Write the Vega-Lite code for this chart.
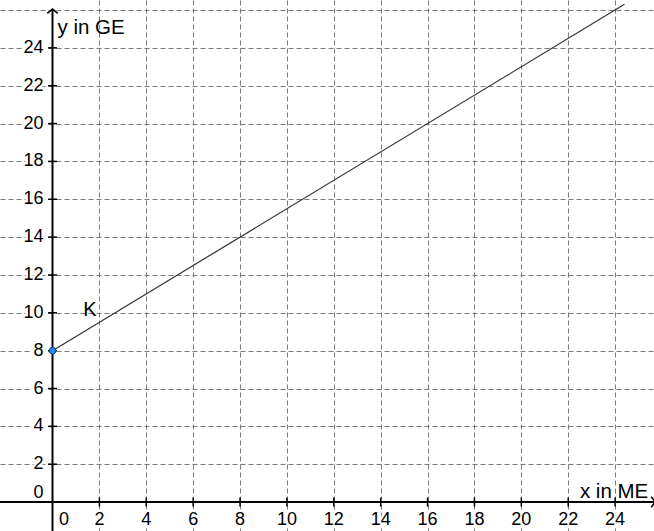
{
  "$schema": "https://vega.github.io/schema/vega-lite/v6.json",
  "width": 654,
  "height": 531,
  "autosize": {"type": "fit", "contains": "padding"},
  "padding": 0,
  "background": "white",
  "config": {"view": {"stroke": null}, "font": "Liberation Sans"},
  "datasets": {
    "line": [{"x": 0, "y": 8}, {"x": 24.4, "y": 26.3}],
    "pt": [{"x": 0, "y": 8}],
    "axes": [{"x": -2.24, "x2": 25.72, "y": 0, "y2": 0}, {"x": 0, "x2": 0, "y": -1.53, "y2": 26.05}],
    "ytip": [{"x": 0, "y": 26.05}],
    "xtip": [{"x": 25.72, "y": 0}],
    "xt": [{"x": 2, "y": 0}, {"x": 4, "y": 0}, {"x": 6, "y": 0}, {"x": 8, "y": 0}, {"x": 10, "y": 0}, {"x": 12, "y": 0}, {"x": 14, "y": 0}, {"x": 16, "y": 0}, {"x": 18, "y": 0}, {"x": 20, "y": 0}, {"x": 22, "y": 0}, {"x": 24, "y": 0}],
    "yt": [{"x": 0, "y": 2}, {"x": 0, "y": 4}, {"x": 0, "y": 6}, {"x": 0, "y": 8}, {"x": 0, "y": 10}, {"x": 0, "y": 12}, {"x": 0, "y": 14}, {"x": 0, "y": 16}, {"x": 0, "y": 18}, {"x": 0, "y": 20}, {"x": 0, "y": 22}, {"x": 0, "y": 24}],
    "x0": [{"x": 0, "y": 0, "t": "0"}],
    "y0": [{"x": 0, "y": 0, "t": "0"}],
    "xl": [{"x": 2, "y": 0, "t": "2"}, {"x": 4, "y": 0, "t": "4"}, {"x": 6, "y": 0, "t": "6"}, {"x": 8, "y": 0, "t": "8"}, {"x": 10, "y": 0, "t": "10"}, {"x": 12, "y": 0, "t": "12"}, {"x": 14, "y": 0, "t": "14"}, {"x": 16, "y": 0, "t": "16"}, {"x": 18, "y": 0, "t": "18"}, {"x": 20, "y": 0, "t": "20"}, {"x": 22, "y": 0, "t": "22"}, {"x": 24, "y": 0, "t": "24"}],
    "yl": [{"x": 0, "y": 2, "t": "2"}, {"x": 0, "y": 4, "t": "4"}, {"x": 0, "y": 6, "t": "6"}, {"x": 0, "y": 8, "t": "8"}, {"x": 0, "y": 10, "t": "10"}, {"x": 0, "y": 12, "t": "12"}, {"x": 0, "y": 14, "t": "14"}, {"x": 0, "y": 16, "t": "16"}, {"x": 0, "y": 18, "t": "18"}, {"x": 0, "y": 20, "t": "20"}, {"x": 0, "y": 22, "t": "22"}, {"x": 0, "y": 24, "t": "24"}],
    "ytitle": [{"x": 0, "y": 24.75, "t": "y in GE"}],
    "xtitle": [{"x": 22.5, "y": 0, "t": "x in ME"}],
    "klab": [{"x": 1.6, "y": 10.15, "t": "K"}]
  },
  "encoding": {
    "x": {
      "field": "x", "type": "quantitative",
      "scale": {"domain": [-2.24, 25.66], "nice": false, "zero": false},
      "axis": {"title": null, "labels": false, "ticks": false, "domain": false, "grid": true,
               "values": [2, 4, 6, 8, 10, 12, 14, 16, 18, 20, 22, 24],
               "gridColor": "#7a7a7a", "gridDash": [5, 3], "gridWidth": 1}
    },
    "y": {
      "field": "y", "type": "quantitative",
      "scale": {"domain": [-1.53, 26.53], "nice": false, "zero": false},
      "axis": {"title": null, "labels": false, "ticks": false, "domain": false, "grid": true,
               "values": [2, 4, 6, 8, 10, 12, 14, 16, 18, 20, 22, 24, 26],
               "gridColor": "#7a7a7a", "gridDash": [5, 3], "gridWidth": 1}
    }
  },
  "layer": [
    {"data": {"name": "line"}, "mark": {"type": "line", "stroke": "#333333", "strokeWidth": 1.2, "clip": true}},
    {"data": {"name": "axes"}, "mark": {"type": "rule", "stroke": "black", "strokeWidth": 2, "clip": true},
     "encoding": {"x2": {"field": "x2"}, "y2": {"field": "y2"}}},
    {"data": {"name": "ytip"}, "mark": {"type": "point", "shape": "M-1,0.8L0,0L1,0.8", "filled": false, "stroke": "black", "strokeWidth": 1.6, "size": 110, "opacity": 1, "clip": true}},
    {"data": {"name": "xtip"}, "mark": {"type": "point", "shape": "M-1,0.8L0,0L1,0.8", "angle": 90, "filled": false, "stroke": "black", "strokeWidth": 1.6, "size": 110, "opacity": 1, "clip": true}},
    {"data": {"name": "xt"}, "mark": {"type": "tick", "orient": "vertical", "size": 9, "thickness": 1.5, "color": "black", "opacity": 1}},
    {"data": {"name": "yt"}, "mark": {"type": "tick", "orient": "horizontal", "size": 9, "thickness": 1.5, "color": "black", "opacity": 1}},
    {"data": {"name": "pt"}, "mark": {"type": "point", "shape": "circle", "filled": true, "fill": "#1e8fff", "stroke": "#1a3f7a", "strokeWidth": 1, "size": 45, "opacity": 1}},
    {"data": {"name": "xl"}, "mark": {"type": "text", "fontSize": 18, "align": "center", "baseline": "middle", "dy": 18, "stroke": "white", "strokeWidth": 5, "fill": "white"}, "encoding": {"text": {"field": "t"}}},
    {"data": {"name": "xl"}, "mark": {"type": "text", "fontSize": 18, "align": "center", "baseline": "middle", "dy": 18, "fill": "black"}, "encoding": {"text": {"field": "t"}}},
    {"data": {"name": "x0"}, "mark": {"type": "text", "fontSize": 18, "align": "left", "baseline": "middle", "dx": 6.5, "dy": 18, "stroke": "white", "strokeWidth": 5, "fill": "white"}, "encoding": {"text": {"field": "t"}}},
    {"data": {"name": "x0"}, "mark": {"type": "text", "fontSize": 18, "align": "left", "baseline": "middle", "dx": 6.5, "dy": 18, "fill": "black"}, "encoding": {"text": {"field": "t"}}},
    {"data": {"name": "yl"}, "mark": {"type": "text", "fontSize": 18, "align": "right", "baseline": "middle", "dx": -9, "stroke": "white", "strokeWidth": 5, "fill": "white"}, "encoding": {"text": {"field": "t"}}},
    {"data": {"name": "yl"}, "mark": {"type": "text", "fontSize": 18, "align": "right", "baseline": "middle", "dx": -9, "fill": "black"}, "encoding": {"text": {"field": "t"}}},
    {"data": {"name": "y0"}, "mark": {"type": "text", "fontSize": 18, "align": "right", "baseline": "middle", "dx": -9, "dy": -9, "fill": "black"}, "encoding": {"text": {"field": "t"}}},
    {"data": {"name": "ytitle"}, "mark": {"type": "text", "fontSize": 20.5, "align": "left", "baseline": "alphabetic", "dx": 5, "fill": "black"}, "encoding": {"text": {"field": "t"}}},
    {"data": {"name": "xtitle"}, "mark": {"type": "text", "fontSize": 20.5, "align": "left", "baseline": "alphabetic", "dy": -4, "fill": "black"}, "encoding": {"text": {"field": "t"}}},
    {"data": {"name": "klab"}, "mark": {"type": "text", "fontSize": 20, "align": "center", "baseline": "middle", "fill": "black"}, "encoding": {"text": {"field": "t"}}}
  ]
}
